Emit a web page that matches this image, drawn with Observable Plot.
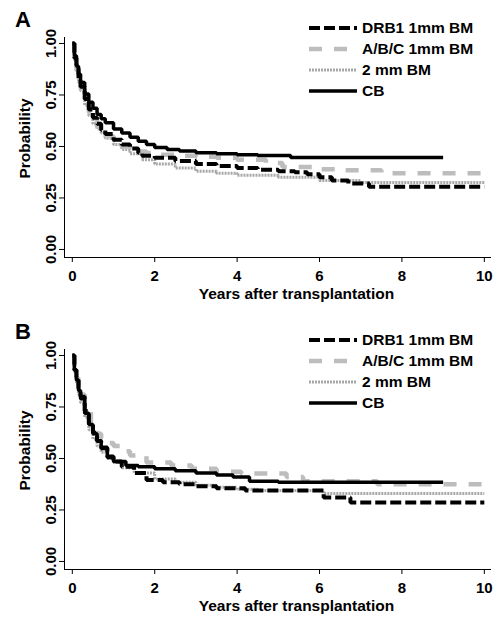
<!DOCTYPE html>
<html><head><meta charset="utf-8">
<script src="https://cdn.jsdelivr.net/npm/d3@7"></script>
<script src="https://cdn.jsdelivr.net/npm/@observablehq/plot@0.6"></script>
<style>
body{margin:0;background:#fff;}
#wrap{position:relative;width:499px;height:617px;font-family:"Liberation Sans",Arial,sans-serif;color:#000;}
.panel{position:absolute;left:0;width:499px;}
.tag{position:absolute;left:15px;font-weight:bold;font-size:22px;line-height:22px;}
.legend{position:absolute;left:309px;font-weight:bold;font-size:15.5px;}
.legend .row{height:21px;display:flex;align-items:center;white-space:nowrap;}
.legend svg{margin-right:5px;}
</style></head><body>
<div id="wrap"></div>
<script>
// ---- data ----
const seriesNames = ["DRB1 1mm BM", "A/B/C 1mm BM", "2 mm BM", "CB"];
const xTicks = [0, 2, 4, 6, 8, 10];
const yTicks = [0, 0.25, 0.5, 0.75, 1];

// Panel A
const A_DRB1_t = [0,0.05,0.1,0.15,0.2,0.3,0.4,0.5,0.6,0.7,0.8,1.0,1.2,1.4,1.6,1.7,2.0,2.5,3.0,3.5,4.0,4.5,5.0,5.4,5.7,6.0,6.3,6.7,7.2,10.0];
const A_DRB1_p = [1.0,0.93,0.88,0.83,0.79,0.73,0.68,0.64,0.61,0.58,0.56,0.533,0.51,0.49,0.47,0.455,0.445,0.43,0.415,0.405,0.395,0.387,0.38,0.375,0.365,0.35,0.335,0.32,0.305,0.305];
const A_ABC_t = [0,0.05,0.1,0.15,0.2,0.3,0.4,0.5,0.6,0.7,0.8,1.0,1.2,1.4,1.6,1.8,2.0,2.5,3.0,3.5,4.0,4.7,5.1,5.85,6.4,7.5,10.0];
const A_ABC_p = [1.0,0.93,0.87,0.82,0.78,0.715,0.665,0.625,0.595,0.57,0.55,0.52,0.5,0.485,0.475,0.468,0.46,0.455,0.45,0.445,0.435,0.42,0.40,0.39,0.385,0.37,0.37];
const A_2MM_t = [0,0.05,0.1,0.15,0.2,0.3,0.4,0.5,0.6,0.7,0.8,1.0,1.2,1.4,1.7,2.0,2.5,3.0,3.5,4.0,5.0,6.0,7.0,10.0];
const A_2MM_p = [1.0,0.92,0.86,0.81,0.77,0.70,0.65,0.61,0.585,0.565,0.54,0.51,0.485,0.465,0.435,0.415,0.395,0.38,0.37,0.36,0.35,0.335,0.325,0.325];
const A_CB_t = [0,0.05,0.1,0.15,0.2,0.3,0.4,0.5,0.6,0.7,0.8,1.0,1.2,1.4,1.6,1.8,2.0,2.3,2.6,3.0,3.5,4.0,4.5,5.3,9.0];
const A_CB_p = [1.0,0.94,0.89,0.85,0.81,0.755,0.715,0.685,0.655,0.635,0.615,0.585,0.565,0.545,0.525,0.51,0.495,0.485,0.478,0.47,0.465,0.46,0.456,0.447,0.447];

// Panel B
const B_DRB1_t = [0,0.05,0.1,0.15,0.2,0.3,0.4,0.5,0.6,0.7,0.85,1.0,1.2,1.5,1.8,2.2,2.6,3.0,3.5,4.2,6.1,6.75,10.0];
const B_DRB1_p = [1.0,0.93,0.88,0.84,0.80,0.73,0.67,0.625,0.585,0.55,0.51,0.485,0.46,0.43,0.395,0.385,0.375,0.365,0.355,0.345,0.31,0.286,0.286];
const B_ABC_t = [0,0.05,0.1,0.15,0.2,0.3,0.45,0.6,0.7,0.85,1.0,1.2,1.4,1.8,2.4,2.9,3.5,4.1,4.6,5.2,5.6,7.4,10.0];
const B_ABC_p = [1.0,0.94,0.89,0.85,0.81,0.74,0.665,0.62,0.6,0.575,0.56,0.535,0.515,0.48,0.466,0.45,0.435,0.427,0.427,0.41,0.39,0.375,0.375];
const B_2MM_t = [0,0.05,0.1,0.15,0.2,0.3,0.4,0.5,0.6,0.7,0.85,1.0,1.2,1.5,2.0,2.5,3.0,3.5,4.0,4.5,6.1,10.0];
const B_2MM_p = [1.0,0.92,0.86,0.81,0.77,0.70,0.64,0.595,0.56,0.53,0.50,0.48,0.455,0.43,0.40,0.385,0.37,0.36,0.35,0.345,0.33,0.33];
const B_CB_t = [0,0.05,0.1,0.15,0.2,0.3,0.4,0.5,0.6,0.7,0.85,1.0,1.3,1.6,2.0,2.5,3.0,3.5,3.9,4.3,5.0,9.0];
const B_CB_p = [1.0,0.93,0.88,0.83,0.79,0.72,0.665,0.62,0.585,0.555,0.505,0.485,0.466,0.46,0.45,0.44,0.43,0.42,0.41,0.39,0.385,0.385];

// ---- styles ----
const styles = {
  "DRB1 1mm BM": {stroke: "#000", strokeWidth: 4, strokeDasharray: "11,4"},
  "A/B/C 1mm BM": {stroke: "#bdbdbd", strokeWidth: 4.5, strokeDasharray: "13,12"},
  "2 mm BM": {stroke: "#a8a8a8", strokeWidth: 3, strokeDasharray: "2,1"},
  "CB": {stroke: "#000", strokeWidth: 3.5, strokeDasharray: null}
};
const drawOrder = ["2 mm BM", "A/B/C 1mm BM", "DRB1 1mm BM", "CB"];

function toRows(t, p) { return t.map((d, i) => ({t: d, p: p[i]})); }

const panels = [
  {tag: "A", top: 0, height: 312, legendTop: 17,
   series: {"DRB1 1mm BM": toRows(A_DRB1_t, A_DRB1_p), "A/B/C 1mm BM": toRows(A_ABC_t, A_ABC_p), "2 mm BM": toRows(A_2MM_t, A_2MM_p), "CB": toRows(A_CB_t, A_CB_p)}},
  {tag: "B", top: 312, height: 305, legendTop: 17,
   series: {"DRB1 1mm BM": toRows(B_DRB1_t, B_DRB1_p), "A/B/C 1mm BM": toRows(B_ABC_t, B_ABC_p), "2 mm BM": toRows(B_2MM_t, B_2MM_p), "CB": toRows(B_CB_t, B_CB_p)}}
];

const wrap = document.getElementById("wrap");
const font = '"Liberation Sans", Arial, sans-serif';

for (const pn of panels) {
  const div = document.createElement("div");
  div.className = "panel";
  div.style.top = pn.top + "px";
  div.style.height = pn.height + "px";
  const chart = Plot.plot({
    width: 499, height: pn.height,
    marginLeft: 64, marginRight: 9, marginTop: 37, marginBottom: pn.height - 257,
    style: {fontFamily: font, fontSize: "15px", fontWeight: "bold", color: "#000", background: "#fff"},
    x: {domain: [-0.19, 10.15], ticks: xTicks, tickSize: 5, tickPadding: 8, label: null, line: true},
    y: {domain: [-0.039, 1.029], ticks: yTicks, tickFormat: d => d.toFixed(2), tickRotate: -90,
        tickSize: 5, tickPadding: 4, label: null, line: true},
    marks: [
      ...drawOrder.map(name => Plot.line(pn.series[name], {
        x: "t", y: "p", curve: "step-after",
        stroke: styles[name].stroke, strokeWidth: styles[name].strokeWidth,
        strokeDasharray: styles[name].strokeDasharray, strokeLinejoin: "miter", strokeLinecap: "butt"
      })),
      Plot.text(["Years after transplantation"], {text: d => d, frameAnchor: "bottom", dy: 41, dx: 19,
        fontSize: 15.5, fontWeight: "bold"}),
      Plot.text(["Probability"], {text: d => d, frameAnchor: "left", textAnchor: "middle", dx: -39, dy: -9, rotate: -90,
        fontSize: 15.5, fontWeight: "bold"})
    ]
  });
  div.appendChild(chart);

  const tag = document.createElement("div");
  tag.className = "tag";
  tag.style.top = "9px";
  tag.textContent = pn.tag;
  div.appendChild(tag);

  const leg = document.createElement("div");
  leg.className = "legend";
  leg.style.top = pn.legendTop + "px";
  for (const name of seriesNames) {
    const s = styles[name];
    const row = document.createElement("div");
    row.className = "row";
    row.innerHTML = `<svg width="48" height="10"><line x1="0" x2="48" y1="5" y2="5" stroke="${s.stroke}" stroke-width="${s.strokeWidth}" ${s.strokeDasharray ? `stroke-dasharray="${s.strokeDasharray}"` : ""}/></svg><span>${name}</span>`;
    leg.appendChild(row);
  }
  div.appendChild(leg);
  wrap.appendChild(div);
}
</script>
</body></html>
